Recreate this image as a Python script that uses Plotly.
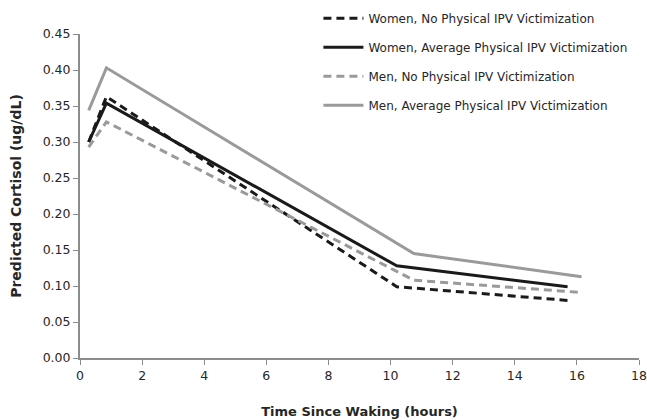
import plotly.graph_objects as go

# Data
women_time = [0.28, 0.85, 10.2, 15.7]
men_time = [0.28, 0.85, 10.75, 16.15]
women_no_ipv = [0.300, 0.363, 0.099, 0.080]
women_avg_ipv = [0.300, 0.354, 0.128, 0.099]
men_no_ipv = [0.293, 0.328, 0.108, 0.091]
men_avg_ipv = [0.344, 0.403, 0.145, 0.113]

series_names = [
    "Women, No Physical IPV Victimization",
    "Women, Average Physical IPV Victimization",
    "Men, No Physical IPV Victimization",
    "Men, Average Physical IPV Victimization",
]

BLACK = "#1a1a1a"
GREY = "#9a9a9a"
FONT = "'DejaVu Sans', sans-serif"
TEXT = "#262626"
DASH = "8px,5px"

fig = go.Figure()
specs = [
    (women_time, women_no_ipv, BLACK, DASH),
    (women_time, women_avg_ipv, BLACK, "solid"),
    (men_time, men_no_ipv, GREY, DASH),
    (men_time, men_avg_ipv, GREY, "solid"),
]
for i, (x, y, c, d) in enumerate(specs):
    fig.add_trace(go.Scatter(
        x=x, y=y, mode="lines", name=series_names[i],
        legendgroup=f"g{i}",
        line=dict(color=c, width=3, dash=d),
    ))

axis_color = "#8c8c8c"
fig.update_layout(
    width=647, height=420,
    margin=dict(l=80, r=8, t=34, b=62, autoexpand=False),
    paper_bgcolor="white", plot_bgcolor="white",
    font=dict(family=FONT, size=12, color=TEXT),
    showlegend=True,
    legend=dict(
        x=0.4265, y=1.093, xanchor="left", yanchor="top",
        font=dict(family=FONT, size=12, color=TEXT),
        bgcolor="rgba(0,0,0,0)",
        traceorder="grouped", tracegroupgap=10,
        itemwidth=40,
    ),
    xaxis=dict(
        range=[0, 18], tickmode="linear", tick0=0, dtick=2,
        showgrid=False, zeroline=False, automargin=False,
        ticklabeloverflow="allow",
        showline=True, linecolor=axis_color, linewidth=2,
        ticks="outside", tickcolor=axis_color, ticklen=5, tickwidth=1,
        tickfont=dict(family=FONT, size=12.5, color=TEXT),
        title=dict(text="<b>Time Since Waking (hours)</b>",
                   font=dict(family=FONT, size=13, color=TEXT), standoff=25),
    ),
    yaxis=dict(
        range=[0, 0.45], tickmode="linear", tick0=0, dtick=0.05,
        tickformat=".2f",
        showgrid=False, zeroline=False, automargin=False,
        showline=True, linecolor=axis_color, linewidth=2,
        ticks="outside", tickcolor=axis_color, ticklen=5, tickwidth=1,
        tickfont=dict(family=FONT, size=12.5, color=TEXT),
        title=dict(text="<b>Predicted Cortisol (ug/dL)</b>",
                   font=dict(family=FONT, size=14, color=TEXT), standoff=18),
    ),
)

fig.write_html(
    "out.html",
    config={"displayModeBar": False},
    post_script="document.body.style.margin='0';document.body.style.overflow='hidden';",
)
